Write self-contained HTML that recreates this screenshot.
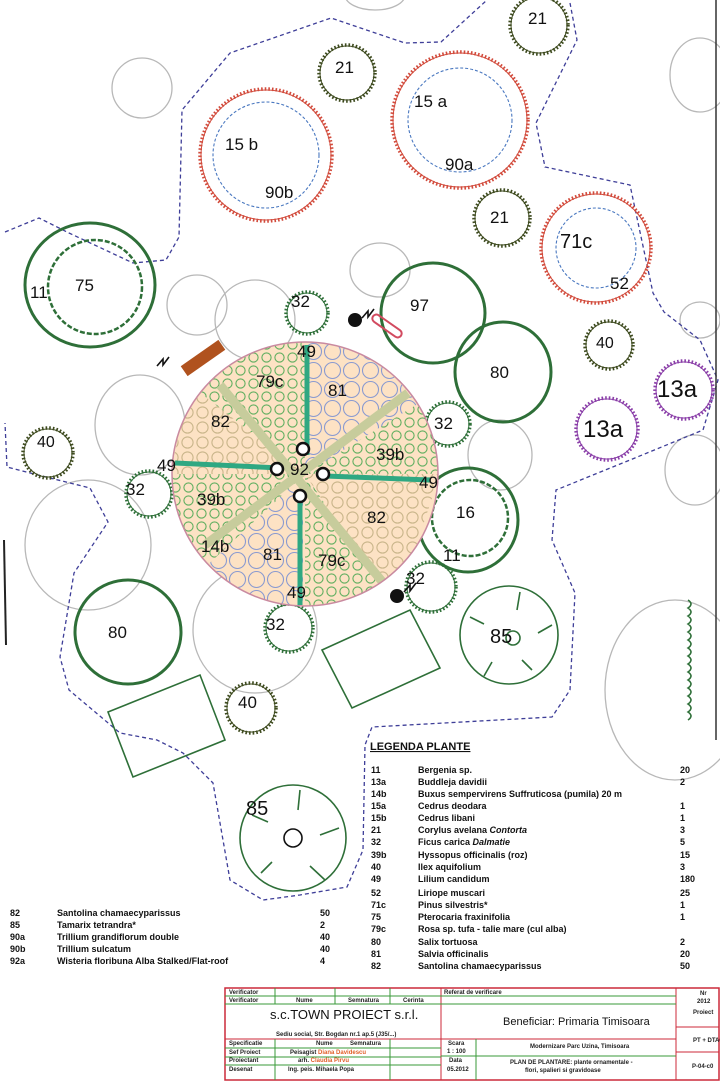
<!DOCTYPE html>
<html><head><meta charset="utf-8"><style>
html,body{margin:0;padding:0;background:#fff;}
svg{display:block;}
text{font-family:"Liberation Sans",sans-serif;}
</style></head><body>
<svg width="720" height="1081" viewBox="0 0 720 1081" xmlns="http://www.w3.org/2000/svg">
<defs>
<pattern id="pg" width="13" height="13" patternUnits="userSpaceOnUse"><circle cx="6.5" cy="6.5" r="4.6" fill="none" stroke="#5fae5f" stroke-width="1.1"/></pattern>
<pattern id="pb" width="19" height="19" patternUnits="userSpaceOnUse"><circle cx="9.5" cy="9.5" r="8" fill="none" stroke="#8a9ad0" stroke-width="1.1"/></pattern>
<pattern id="pt" width="15" height="15" patternUnits="userSpaceOnUse"><circle cx="7.5" cy="7.5" r="5.6" fill="none" stroke="#c9b58a" stroke-width="1.1"/></pattern>
<clipPath id="disc"><ellipse cx="305" cy="474" rx="133" ry="132"/></clipPath>
</defs>

<g fill="none" stroke="#b8b8b8" stroke-width="1.3">
<ellipse cx="142" cy="88" rx="30" ry="30"/>
<ellipse cx="375" cy="-5" rx="30" ry="15"/>
<ellipse cx="700" cy="75" rx="30" ry="37"/>
<ellipse cx="197" cy="305" rx="30" ry="30"/>
<ellipse cx="380" cy="270" rx="30" ry="27"/>
<ellipse cx="255" cy="320" rx="40" ry="40"/>
<ellipse cx="140" cy="425" rx="45" ry="50"/>
<ellipse cx="88" cy="545" rx="63" ry="65"/>
<ellipse cx="255" cy="630" rx="62" ry="63"/>
<ellipse cx="500" cy="455" rx="32" ry="35"/>
<ellipse cx="695" cy="470" rx="30" ry="35"/>
<ellipse cx="700" cy="320" rx="20" ry="18"/>
<ellipse cx="675" cy="690" rx="70" ry="90"/>
</g>

<g fill="none" stroke="#3e3e98" stroke-width="1.3" stroke-dasharray="4 3">
<polyline points="5,232 39,218 69,233 133,263 166,260 179,237 182,110 230,53 331,18 405,43 441,42 487,0"/>
<polyline points="570,3 577,40 536,123 545,167 630,185 653,293 664,312 700,340 718,380 703,430 630,460 556,490 552,540 575,593 570,690 552,717 372,727 365,745 363,850 347,887 300,895 263,900 230,880 213,783 183,753 157,740 120,733 69,690 60,657 74,573 108,522 90,488 46,477 7,467 5,423"/>
</g>
<line x1="716" y1="0" x2="716" y2="740" stroke="#333" stroke-width="1.5"/>
<line x1="4" y1="540" x2="6" y2="645" stroke="#222" stroke-width="2"/>

<g fill="none" stroke="#3d4a1e">
<g stroke-width="1"><circle cx="539" cy="25" r="28"/><circle cx="347" cy="73" r="27"/><circle cx="502" cy="218" r="27"/><circle cx="609" cy="345" r="23"/><circle cx="48" cy="453" r="24"/><circle cx="251" cy="708" r="24"/></g>
<g stroke-width="3.5" stroke-dasharray="1.6 2">
<circle cx="539" cy="25" r="29"/>
<circle cx="347" cy="73" r="28"/>
<circle cx="502" cy="218" r="28"/>
<circle cx="609" cy="345" r="24"/>
<circle cx="48" cy="453" r="25"/>
<circle cx="251" cy="708" r="25"/>
</g></g>

<g fill="none" stroke="#d24b3c">
<g stroke-width="1"><circle cx="266" cy="155" r="65"/><circle cx="460" cy="120" r="67"/><circle cx="596" cy="248" r="54"/></g>
<g stroke-width="3.5" stroke-dasharray="1.6 2">
<circle cx="266" cy="155" r="66"/>
<circle cx="460" cy="120" r="68"/>
<circle cx="596" cy="248" r="55"/>
</g></g>
<g fill="none" stroke="#4a78c0" stroke-width="1.1" stroke-dasharray="3 2">
<circle cx="266" cy="155" r="53"/>
<circle cx="460" cy="120" r="52"/>
<circle cx="596" cy="248" r="40"/>
</g>

<g fill="none" stroke="#8a3ea8">
<g stroke-width="1"><circle cx="684" cy="390" r="28"/><circle cx="607" cy="429" r="30"/></g>
<g stroke-width="3.5" stroke-dasharray="1.6 2">
<circle cx="684" cy="390" r="29"/>
<circle cx="607" cy="429" r="31"/>
</g></g>

<g fill="none" stroke="#2e6f38" stroke-width="3">
<ellipse cx="90" cy="285" rx="65" ry="62"/>
<ellipse cx="433" cy="313" rx="52" ry="50"/>
<ellipse cx="503" cy="372" rx="48" ry="50"/>
<ellipse cx="468" cy="520" rx="50" ry="52"/>
<ellipse cx="128" cy="632" rx="53" ry="52"/>
</g>
<g fill="none" stroke="#2e6f38" stroke-width="2.5" stroke-dasharray="5 2">
<circle cx="95" cy="287" r="47"/>
<circle cx="470" cy="518" r="38"/>
</g>
<g fill="none" stroke="#2e6f38">
<g stroke-width="1"><circle cx="307" cy="313" r="20"/><circle cx="448" cy="424" r="21"/><circle cx="149" cy="494" r="22"/><circle cx="289" cy="628" r="23"/><circle cx="431" cy="587" r="24"/></g>
<g stroke-width="3.5" stroke-dasharray="1.6 2">
<circle cx="307" cy="313" r="21"/>
<circle cx="448" cy="424" r="22"/>
<circle cx="149" cy="494" r="23"/>
<circle cx="289" cy="628" r="24"/>
<circle cx="431" cy="587" r="25"/>
</g></g>

<g fill="none" stroke="#2e6f38" stroke-width="1.6">
<circle cx="509" cy="635" r="49"/>
<circle cx="513" cy="638" r="7"/>
<circle cx="293" cy="838" r="53"/>
<circle cx="293" cy="838" r="9" stroke="#111" stroke-width="1.6"/>
<path d="M520,592 L517,610 M552,625 L538,633 M532,670 L522,660 M484,676 L492,662 M470,617 L484,624"/>
<path d="M300,790 L298,810 M339,828 L320,835 M325,880 L310,866 M261,873 L272,862 M252,815 L268,822"/>
<polygon points="108,712 200,675 225,740 133,777"/>
<polygon points="322,650 410,610 440,668 352,708"/>
<path d="M688,600 q6,4 0,8 q6,4 0,8 q6,4 0,8 q6,4 0,8 q6,4 0,8 q6,4 0,8 q6,4 0,8 q6,4 0,8 q6,4 0,8 q6,4 0,8 q6,4 0,8 q6,4 0,8 q6,4 0,8 q6,4 0,8 q6,4 0,8"/>
</g>

<ellipse cx="305" cy="474" rx="133" ry="132" fill="#fde2c4"/>
<g clip-path="url(#disc)">
<path d="M305,474 L305,340 L240,340 L190,385 Z" fill="url(#pg)"/>
<path d="M305,474 L190,385 L170,474 Z" fill="url(#pt)"/>
<path d="M305,474 L170,474 L170,600 Z" fill="url(#pg)"/>
<path d="M305,474 L170,600 L305,610 Z" fill="url(#pb)"/>
<path d="M305,474 L305,610 L395,610 Z" fill="url(#pg)"/>
<path d="M305,474 L395,610 L440,474 Z" fill="url(#pt)"/>
<path d="M305,474 L440,474 L440,390 Z" fill="url(#pg)"/>
<path d="M305,474 L440,390 L440,340 L305,340 Z" fill="url(#pb)"/>
<line x1="220" y1="385" x2="385" y2="585" stroke="#c7cc9c" stroke-width="9"/>
<line x1="205" y1="545" x2="408" y2="393" stroke="#c7cc9c" stroke-width="9"/>
<line x1="307" y1="345" x2="307" y2="455" stroke="#2fa882" stroke-width="5"/>
<line x1="300" y1="495" x2="300" y2="605" stroke="#2fa882" stroke-width="5"/>
<line x1="175" y1="463" x2="280" y2="468" stroke="#2fa882" stroke-width="5"/>
<line x1="325" y1="476" x2="430" y2="480" stroke="#2fa882" stroke-width="5"/>
</g>
<ellipse cx="305" cy="474" rx="133" ry="132" fill="none" stroke="#c98aa0" stroke-width="1.5"/>
<g fill="#fff" stroke="#111" stroke-width="2.5">
<circle cx="303" cy="449" r="6"/>
<circle cx="277" cy="469" r="6"/>
<circle cx="323" cy="474" r="6"/>
<circle cx="300" cy="496" r="6"/>
</g>

<rect x="180" y="352" width="46" height="12" fill="#b0521e" transform="rotate(-35 203 358)"/>
<rect x="370" y="322" width="34" height="8" rx="4" fill="none" stroke="#d24b60" stroke-width="2" transform="rotate(35 387 326)"/>
<circle cx="355" cy="320" r="7" fill="#111"/>
<circle cx="397" cy="596" r="7" fill="#111"/>
<path d="M362,318 l6,-7 l0,6 l6,-8 M404,592 l6,-7 l0,6 l6,-8 M157,366 l6,-7 l0,6 l6,-8" fill="none" stroke="#111" stroke-width="1.6"/>

<g font-size="17" fill="#111">
<text x="528" y="24">21</text>
<text x="335" y="73">21</text>
<text x="490" y="223">21</text>
<text x="414" y="107">15 a</text>
<text x="445" y="170">90a</text>
<text x="225" y="150">15 b</text>
<text x="265" y="198">90b</text>
<text x="560" y="248" font-size="20">71c</text>
<text x="610" y="289">52</text>
<text x="75" y="291">75</text>
<text x="30" y="298">11</text>
<text x="291" y="307">32</text>
<text x="410" y="311">97</text>
<text x="490" y="378">80</text>
<text x="596" y="348" font-size="16">40</text>
<text x="37" y="447" font-size="16">40</text>
<text x="657" y="397" font-size="24">13a</text>
<text x="583" y="437" font-size="24">13a</text>
<text x="434" y="429">32</text>
<text x="126" y="495">32</text>
<text x="456" y="518">16</text>
<text x="443" y="561">11</text>
<text x="406" y="584">32</text>
<text x="266" y="630">32</text>
<text x="108" y="638">80</text>
<text x="238" y="708">40</text>
<text x="490" y="643" font-size="20">85</text>
<text x="246" y="815" font-size="20">85</text>
<text x="297" y="357">49</text>
<text x="256" y="387">79c</text>
<text x="328" y="396">81</text>
<text x="211" y="427">82</text>
<text x="376" y="460">39b</text>
<text x="157" y="471">49</text>
<text x="290" y="475">92</text>
<text x="419" y="488">49</text>
<text x="197" y="505">39b</text>
<text x="367" y="523">82</text>
<text x="201" y="552">14b</text>
<text x="263" y="560">81</text>
<text x="318" y="566">79c</text>
<text x="287" y="598">49</text>
</g>

<g font-family="Liberation Sans" font-size="9" fill="#111" font-weight="bold">
<text x="370" y="750" font-family="Liberation Serif" font-size="11" text-decoration="underline">LEGENDA PLANTE</text>
<g>
<text x="371" y="773">11</text><text x="418" y="773">Bergenia sp.</text><text x="680" y="773">20</text>
<text x="371" y="785">13a</text><text x="418" y="785">Buddleja davidii</text><text x="680" y="785">2</text>
<text x="371" y="797">14b</text><text x="418" y="797">Buxus sempervirens Suffruticosa (pumila) 20 m</text>
<text x="371" y="809">15a</text><text x="418" y="809">Cedrus deodara</text><text x="680" y="809">1</text>
<text x="371" y="821">15b</text><text x="418" y="821">Cedrus libani</text><text x="680" y="821">1</text>
<text x="371" y="833">21</text><text x="418" y="833">Corylus avelana <tspan font-style="italic">Contorta</tspan></text><text x="680" y="833">3</text>
<text x="371" y="845">32</text><text x="418" y="845">Ficus carica <tspan font-style="italic">Dalmatie</tspan></text><text x="680" y="845">5</text>
<text x="371" y="858">39b</text><text x="418" y="858">Hyssopus officinalis (roz)</text><text x="680" y="858">15</text>
<text x="371" y="870">40</text><text x="418" y="870">Ilex aquifolium</text><text x="680" y="870">3</text>
<text x="371" y="882">49</text><text x="418" y="882">Lilium candidum</text><text x="680" y="882">180</text>
<text x="371" y="896">52</text><text x="418" y="896">Liriope muscari</text><text x="680" y="896">25</text>
<text x="371" y="908">71c</text><text x="418" y="908">Pinus silvestris*</text><text x="680" y="908">1</text>
<text x="371" y="920">75</text><text x="418" y="920">Pterocaria fraxinifolia</text><text x="680" y="920">1</text>
<text x="371" y="932">79c</text><text x="418" y="932">Rosa sp. tufa - talie mare (cul alba)</text>
<text x="371" y="945">80</text><text x="418" y="945">Salix tortuosa</text><text x="680" y="945">2</text>
<text x="371" y="957">81</text><text x="418" y="957">Salvia officinalis</text><text x="680" y="957">20</text>
<text x="371" y="969">82</text><text x="418" y="969">Santolina chamaecyparissus</text><text x="680" y="969">50</text>
</g>
<text x="10" y="916">82</text><text x="57" y="916">Santolina chamaecyparissus</text><text x="320" y="916">50</text>
<text x="10" y="928">85</text><text x="57" y="928">Tamarix tetrandra*</text><text x="320" y="928">2</text>
<text x="10" y="940">90a</text><text x="57" y="940">Trillium grandiflorum double</text><text x="320" y="940">40</text>
<text x="10" y="952">90b</text><text x="57" y="952">Trillium sulcatum</text><text x="320" y="952">40</text>
<text x="10" y="964">92a</text><text x="57" y="964">Wisteria floribuna Alba Stalked/Flat-roof</text><text x="320" y="964">4</text>
</g>

<g fill="none" stroke-width="1">
<rect x="225" y="988" width="494" height="92" stroke="#cc2a3a" stroke-width="1.5"/>
<line x1="441" y1="988" x2="441" y2="1080" stroke="#cc2a3a"/>
<line x1="676" y1="988" x2="676" y2="1080" stroke="#cc2a3a"/>
<line x1="225" y1="996" x2="441" y2="996" stroke="#3a9a3a"/>
<line x1="225" y1="1004" x2="676" y2="1004" stroke="#3a9a3a"/>
<line x1="441" y1="996" x2="676" y2="996" stroke="#3a9a3a"/>
<line x1="225" y1="1039" x2="676" y2="1039" stroke="#cc2a3a"/>
<line x1="225" y1="1048" x2="441" y2="1048" stroke="#3a9a3a"/>
<line x1="225" y1="1057" x2="441" y2="1057" stroke="#3a9a3a"/>
<line x1="225" y1="1065" x2="441" y2="1065" stroke="#3a9a3a"/>
<line x1="441" y1="1056" x2="676" y2="1056" stroke="#3a9a3a"/>
<line x1="676" y1="1027" x2="719" y2="1027" stroke="#cc2a3a"/>
<line x1="676" y1="1052" x2="719" y2="1052" stroke="#cc2a3a"/>
<line x1="275" y1="988" x2="275" y2="1004" stroke="#3a9a3a"/>
<line x1="335" y1="988" x2="335" y2="1004" stroke="#3a9a3a"/>
<line x1="390" y1="988" x2="390" y2="1004" stroke="#3a9a3a"/>
<line x1="275" y1="1039" x2="275" y2="1080" stroke="#3a9a3a"/>
<line x1="390" y1="1039" x2="390" y2="1080" stroke="#3a9a3a"/>
<line x1="476" y1="1039" x2="476" y2="1080" stroke="#3a9a3a"/>
</g>
<g font-size="6" fill="#222" font-weight="bold">
<text x="229" y="994">Verificator</text><text x="229" y="1002">Verificator</text>
<text x="296" y="1002">Nume</text><text x="348" y="1002">Semnatura</text><text x="403" y="1002">Cerinta</text>
<text x="444" y="994">Referat de verificare</text>
<text x="700" y="995">Nr</text><text x="697" y="1003">2012</text><text x="693" y="1014">Proiect</text>
<text x="693" y="1042">PT + DTAC</text><text x="692" y="1068">P-04-c0</text>
<text x="276" y="1036">Sediu social, Str. Bogdan nr.1 ap.5 (J35/...)</text>
<text x="229" y="1045">Specificatie</text><text x="316" y="1045">Nume</text><text x="350" y="1045">Semnatura</text>
<text x="229" y="1054">Sef Proiect</text><text x="290" y="1054">Peisagist <tspan fill="#e2602a">Diana Davidescu</tspan></text>
<text x="229" y="1062">Proiectant</text><text x="298" y="1062">arh. <tspan fill="#e2602a">Claudia Pirvu</tspan></text>
<text x="229" y="1071">Desenat</text><text x="288" y="1071">Ing. peis. Mihaela Popa</text>
<text x="448" y="1045">Scara</text><text x="447" y="1053">1 : 100</text>
<text x="449" y="1062">Data</text><text x="447" y="1071">05.2012</text>
<text x="530" y="1048">Modernizare Parc Uzina, Timisoara</text>
<text x="510" y="1064">PLAN DE PLANTARE: plante ornamentale -</text>
<text x="525" y="1072">flori, spalieri si gravidoase</text>
</g>
<text x="270" y="1019" font-size="13" fill="#111">s.c.TOWN PROIECT s.r.l.</text>
<text x="503" y="1025" font-size="11" fill="#111">Beneficiar: Primaria Timisoara</text>
</svg>
</body></html>
